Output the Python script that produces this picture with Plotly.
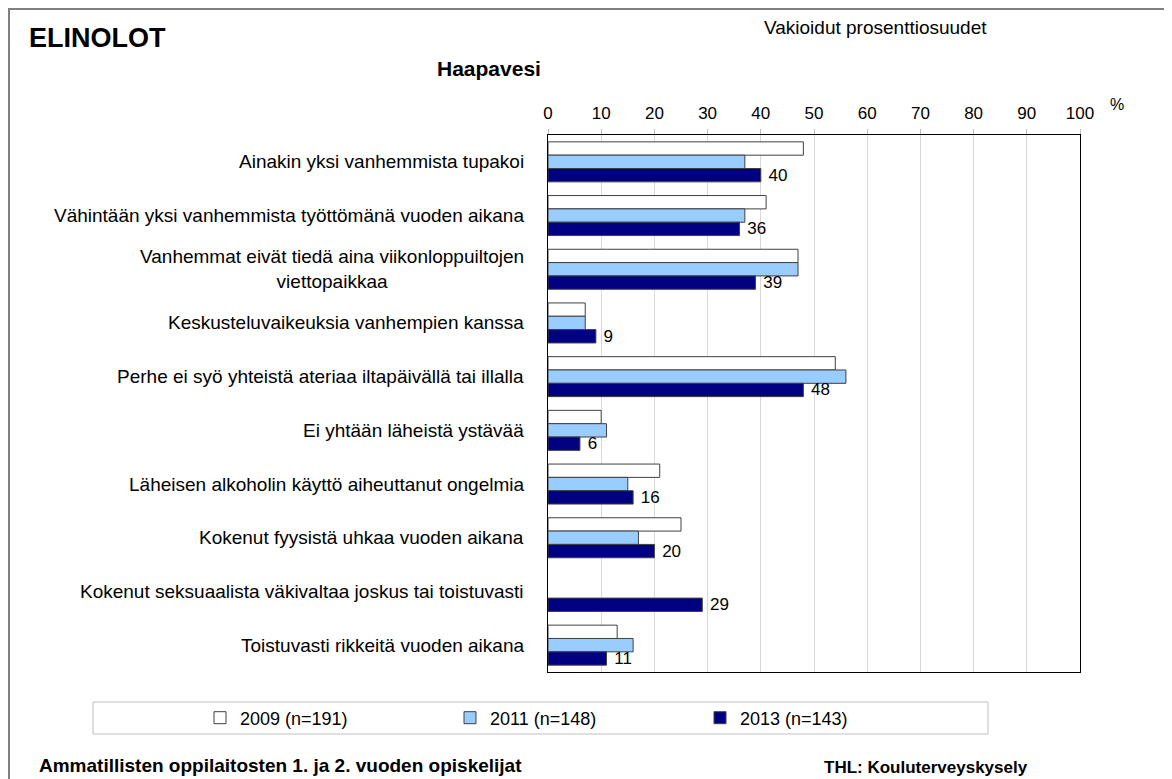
import plotly.graph_objects as go

categories = [
    "Ainakin yksi vanhemmista tupakoi",
    "Vähintään yksi vanhemmista työttömänä vuoden aikana",
    "Vanhemmat eivät tiedä aina viikonloppuiltojen<br>viettopaikkaa",
    "Keskusteluvaikeuksia vanhempien kanssa",
    "Perhe ei syö yhteistä ateriaa iltapäivällä tai illalla",
    "Ei yhtään läheistä ystävää",
    "Läheisen alkoholin käyttö aiheuttanut ongelmia",
    "Kokenut fyysistä uhkaa vuoden aikana",
    "Kokenut seksuaalista väkivaltaa joskus tai toistuvasti",
    "Toistuvasti rikkeitä vuoden aikana",
]
v2009 = [48, 41, 47, 7, 54, 10, 21, 25, None, 13]
v2011 = [37, 37, 47, 7, 56, 11, 15, 17, None, 16]
v2013 = [40, 36, 39, 9, 48, 6, 16, 20, 29, 11]
series_names = ["2009 (n=191)", "2011 (n=148)", "2013 (n=143)"]
x_ticks = list(range(0, 101, 10))

OFF = 8  # page body margin
W, H = 1172 - OFF, 779 - OFF
L, R, T, B = 540, 92, 127, 107
PW, PH = W - L - R, H - T - B
FONT = "Liberation Sans, Arial, Helvetica, sans-serif"


def px(x):
    return (x - OFF - L) / PW


def py(y):
    return (H - B - (y - OFF)) / PH


colors = ["#FFFFFF", "#99CCFF", "#000080"]
fig = go.Figure()
for name, vals, col in zip(series_names, [v2009, v2011, v2013], colors):
    is_last = name == series_names[-1]
    fig.add_trace(go.Bar(
        y=categories, x=vals, name=name, orientation="h",
        marker=dict(color=col, line=dict(color="#404040", width=1)),
        text=vals if is_last else None,
        texttemplate="\u00a0%{x}" if is_last else None,
        textposition="outside" if is_last else "none",
        constraintext="none", cliponaxis=False,
        outsidetextfont=dict(family=FONT, size=17, color="black"),
        hoverinfo="skip",
    ))

annotations = []
for c in categories:
    annotations.append(dict(
        x=px(526), xref="paper", y=c, yref="y", text=c, showarrow=False,
        xanchor="right", yanchor="middle", align="center",
        font=dict(family=FONT, size=19, color="black"),
    ))


def add_text(text, x, y, size, xanchor="left", bold=False):
    annotations.append(dict(
        x=px(x), y=py(y), xref="paper", yref="paper",
        text=f"<b>{text}</b>" if bold else text, showarrow=False,
        xanchor=xanchor, yanchor="middle",
        font=dict(family=FONT, size=size, color="black"),
    ))


add_text("ELINOLOT", 27, 38, 27, bold=True)
add_text("Haapavesi", 489, 68, 21, xanchor="center", bold=True)
add_text("Vakioidut prosenttiosuudet", 875, 28, 19, xanchor="center")
add_text("%", 1117, 104, 16, xanchor="center")
add_text("Ammatillisten oppilaitosten 1. ja 2. vuoden opiskelijat", 37, 765, 19, bold=True)
add_text("THL: Kouluterveyskysely", 822, 767, 17, bold=True)

shapes = [
    dict(type="rect", xref="paper", yref="paper", x0=px(9), x1=px(1200),
         y0=py(9), y1=py(800), line=dict(color="#808080", width=2)),
    dict(type="rect", xref="paper", yref="paper", x0=px(93), x1=px(988),
         y0=py(702), y1=py(734), line=dict(color="#BFBFBF", width=1)),
]

fig.update_layout(
    width=W, height=H, margin=dict(l=L, r=R, t=T, b=B, pad=0),
    paper_bgcolor="white", plot_bgcolor="white",
    barmode="group", bargap=0.255, bargroupgap=0,
    font=dict(family=FONT, size=16, color="black"),
    xaxis=dict(range=[0, 100], side="top", tickvals=x_ticks, ticktext=[str(t) for t in x_ticks],
               showgrid=True, gridcolor="#D9D9D9", gridwidth=1, zeroline=False,
               showline=True, mirror=True, linecolor="black", linewidth=1,
               ticks="outside", ticklen=5, tickcolor="#BFBFBF", ticklabelstandoff=3,
               tickfont=dict(family=FONT, size=17, color="black"), fixedrange=True),
    yaxis=dict(type="category", categoryorder="array", categoryarray=categories,
               autorange="reversed", showticklabels=False, ticks="", showgrid=False,
               zeroline=False, showline=True, mirror=True, linecolor="black", linewidth=1,
               fixedrange=True),
    legend=dict(orientation="h", x=px(200), y=py(718), xanchor="left", yanchor="middle",
                bgcolor="rgba(0,0,0,0)", borderwidth=0, entrywidth=205,
                entrywidthmode="pixels", font=dict(family=FONT, size=18, color="black"),
                traceorder="normal"),
    annotations=annotations, shapes=shapes, showlegend=True,
)

fig.write_html("out.html")
